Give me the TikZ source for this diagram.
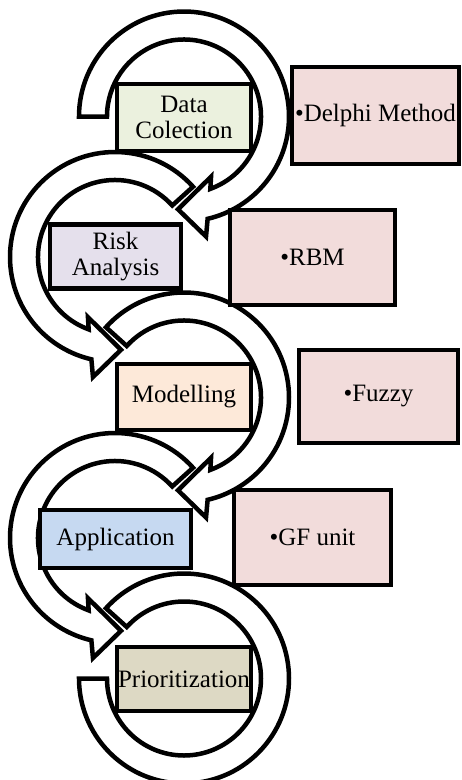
\documentclass[tikz,border=0pt]{standalone}
\usepackage{fontspec}
\setmainfont{Liberation Serif}
\definecolor{DataGreen}{HTML}{EBF1DE}
\definecolor{RiskLilac}{HTML}{E5E0EC}
\definecolor{ModelPeach}{HTML}{FDE9D9}
\definecolor{AppBlue}{HTML}{C6D9F1}
\definecolor{PrioTan}{HTML}{DDD9C4}
\definecolor{NotePink}{HTML}{F2DCDB}
\tikzset{
  loopband/.style={draw=black,line width=4.5pt,fill=white},
  stage/.style={draw=black,line width=4.5pt,inner sep=0pt,align=center},
  note/.style={draw=black,line width=4.5pt,fill=NotePink,inner sep=0pt},
}

\begin{document}
\begin{tikzpicture}[x=1pt,y=1pt,font=\fontsize{25}{26}\selectfont]
  \useasboundingbox (0,0) rectangle (462,-780);
  \coordinate (c1) at (184,-116.5);
  \coordinate (c2) at (115,-257);
  \coordinate (c3) at (184,-397.5);
  \coordinate (c4) at (115,-538);
  \coordinate (c5) at (184,-678.5);

  % loop arrows
  \begin{scope}[shift={(c1)}]
    \draw[loopband] (180:77) -- (180:105) arc[start angle=180,end angle=-77,radius=105]
      -- (-79.6:122) -- (-93.7:93) -- (-65.8:66) -- (-70:77)
      arc[start angle=-70,end angle=180,radius=77] -- cycle;
  \end{scope}
  \begin{scope}[shift={(c2)}]
    \draw[loopband] (42:77) -- (42:105) arc[start angle=42,end angle=257,radius=105]
      -- (259.6:122) -- (273.7:93) -- (245.8:66) -- (250:77)
      arc[start angle=250,end angle=42,radius=77] -- cycle;
  \end{scope}
  \begin{scope}[shift={(c3)}]
    \draw[loopband] (138:77) -- (138:105) arc[start angle=138,end angle=-77,radius=105]
      -- (-79.6:122) -- (-93.7:93) -- (-65.8:66) -- (-70:77)
      arc[start angle=-70,end angle=138,radius=77] -- cycle;
  \end{scope}
  \begin{scope}[shift={(c4)}]
    \draw[loopband] (42:77) -- (42:105) arc[start angle=42,end angle=257,radius=105]
      -- (259.6:122) -- (273.7:93) -- (245.8:66) -- (250:77)
      arc[start angle=250,end angle=42,radius=77] -- cycle;
  \end{scope}
  \begin{scope}[shift={(c5)}]
    \draw[loopband] (138:77) -- (138:105) arc[start angle=138,end angle=-180,radius=105]
      -- (-180:77) arc[start angle=-180,end angle=138,radius=77] -- cycle;
  \end{scope}

  % stages
  \node[stage,fill=DataGreen,minimum width=134pt,minimum height=67pt] (data) at (184,-117.5) {Data\\Colection};
  \node[stage,fill=RiskLilac,minimum width=131pt,minimum height=64pt] (risk) at (115.5,-256.5) {Risk\\Analysis};
  \node[stage,fill=ModelPeach,minimum width=134pt,minimum height=66pt] (model) at (184,-397) {Modelling};
  \node[stage,fill=AppBlue,minimum width=151pt,minimum height=58pt] (app) at (115.5,-539) {Application};
  \node[stage,fill=PrioTan,minimum width=134pt,minimum height=64pt] (prio) at (184,-679) {Prioritization};

  % notes
  \foreach \n/\x/\y/\w/\h/\t in {delphi/375.5/-115.5/167/97/{Delphi Method},rbm/312.5/-257.5/165/95/{RBM},fuzzy/378.5/-396.5/159/93/{Fuzzy},gf/312.5/-537.5/157/95/{GF unit}}{
    \node[note,minimum width=\w pt,minimum height=\h pt] (\n) at (\x,\y) {•\t};
  }
\end{tikzpicture}
\end{document}
